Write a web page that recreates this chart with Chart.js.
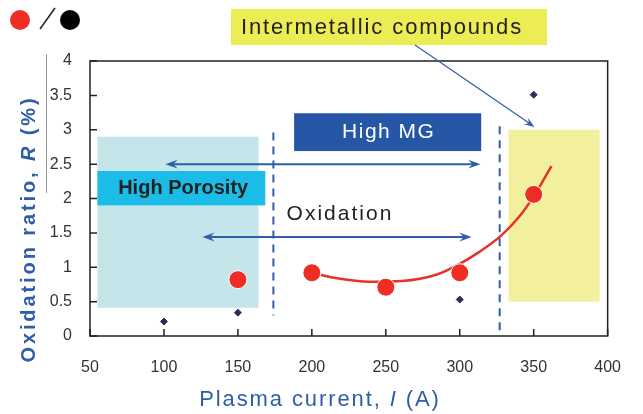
<!DOCTYPE html>
<html>
<head>
<meta charset="utf-8">
<script src="https://cdn.jsdelivr.net/npm/chart.js@4"></script>
<style>
  html, body { margin: 0; padding: 0; background: #fff; }
  #wrap { position: relative; width: 643px; height: 414px; }
</style>
</head>
<body>
<div id="wrap"><canvas id="oxChart" width="643" height="414"></canvas></div>
<script>
// Measured oxidation ratio (red dots)
const currentRed = [150, 200, 250, 300, 350];
const ratioRed = [0.82, 0.92, 0.71, 0.92, 2.06];

// Second series (small dark diamonds)
const currentDark = [100, 150, 300, 350];
const ratioDark = [0.21, 0.34, 0.53, 3.51];

// Trend curve
const curveX = [200, 217, 239, 261, 284, 300, 313, 328, 340, 350, 362];
const curveY = [0.92, 0.84, 0.79, 0.80, 0.89, 1.05, 1.22, 1.46, 1.73, 2.03, 2.47];

const xTicks = [50, 100, 150, 200, 250, 300, 350, 400];
const yTicks = [0, 0.5, 1, 1.5, 2, 2.5, 3, 3.5, 4];

const BLUE = '#2f5ea8';
const FAM = ' "Liberation Sans", Arial, sans-serif';

function pts(xs, ys) {
  return xs.map((x, i) => ({ x: x, y: ys[i] }));
}

function arrowHead(ctx, x1, y1, x2, y2, size) {
  const a = Math.atan2(y2 - y1, x2 - x1);
  ctx.beginPath();
  ctx.moveTo(x2, y2);
  ctx.lineTo(x2 - size * Math.cos(a - 0.35), y2 - size * Math.sin(a - 0.35));
  ctx.lineTo(x2 - size * 0.6 * Math.cos(a), y2 - size * 0.6 * Math.sin(a));
  ctx.lineTo(x2 - size * Math.cos(a + 0.35), y2 - size * Math.sin(a + 0.35));
  ctx.closePath();
  ctx.fill();
}

// draws text made of several font parts, centred on (cx, cy)
function mixedText(ctx, parts, cx, cy, spacing) {
  ctx.letterSpacing = spacing + 'px';
  ctx.textAlign = 'left';
  ctx.textBaseline = 'middle';
  let total = 0;
  parts.forEach(p => { ctx.font = p[1] + FAM; total += ctx.measureText(p[0]).width; });
  let px = cx - total / 2;
  parts.forEach(p => { ctx.font = p[1] + FAM; ctx.fillText(p[0], px, cy); px += ctx.measureText(p[0]).width; });
  ctx.letterSpacing = '0px';
}

// background shading, dashed limits, arrows and labels
const decorations = {
  id: 'decorations',
  beforeDatasetsDraw(chart) {
    const ctx = chart.ctx;
    const xs = chart.scales.x, ys = chart.scales.y;
    const X = v => xs.getPixelForValue(v);
    const Y = v => ys.getPixelForValue(v);
    const rect = (x0, x1, y0, y1, color) => {
      ctx.fillStyle = color;
      ctx.fillRect(X(x0), Y(y1), X(x1) - X(x0), Y(y0) - Y(y1));
    };
    ctx.save();
    rect(55, 164, 0.41, 2.9, '#c4e6ea');
    rect(333, 394.5, 0.5, 3.0, '#f2f09c');

    // dashed region limits
    ctx.strokeStyle = BLUE;
    ctx.lineWidth = 2;
    ctx.setLineDash([8, 6]);
    ctx.beginPath();
    ctx.moveTo(X(174), Y(2.96)); ctx.lineTo(X(174), Y(0.3));
    ctx.moveTo(X(327), Y(3.05)); ctx.lineTo(X(327), Y(0.02));
    ctx.stroke();
    ctx.setLineDash([]);

    // High Porosity label box
    rect(55, 168.5, 1.9, 2.4, '#1bbde8');
    ctx.fillStyle = '#222';
    mixedText(ctx, [['High Porosity', 'bold 20px']], X(113), Y(2.14), 0);

    // High MG label box
    rect(188, 314.5, 2.69, 3.24, '#2656a6');
    ctx.fillStyle = '#fff';
    mixedText(ctx, [['High MG', '21px']], X(252), Y(2.96), 1.5);

    // Oxidation text
    ctx.fillStyle = '#222';
    mixedText(ctx, [['Oxidation', '21px']], X(219), Y(1.77), 2);

    // double headed arrows
    ctx.strokeStyle = BLUE;
    ctx.fillStyle = BLUE;
    ctx.lineWidth = 2;
    [[101, 314, 2.5], [126, 308, 1.44]].forEach(a => {
      const xa = X(a[0]), xb = X(a[1]), y = Y(a[2]);
      ctx.beginPath();
      ctx.moveTo(xa + 6, y); ctx.lineTo(xb - 6, y);
      ctx.stroke();
      arrowHead(ctx, xb - 20, y, xb, y, 13);
      arrowHead(ctx, xa + 20, y, xa, y, 13);
    });
    ctx.restore();
  },
  afterDraw(chart) {
    const ctx = chart.ctx;
    const area = chart.chartArea;
    const xs = chart.scales.x, ys = chart.scales.y;
    const X = v => xs.getPixelForValue(v);
    const Y = v => ys.getPixelForValue(v);
    ctx.save();

    // frame and inner ticks
    ctx.strokeStyle = '#222';
    ctx.lineWidth = 1.5;
    ctx.strokeRect(area.left, area.top, area.right - area.left, area.bottom - area.top);
    ctx.beginPath();
    xTicks.forEach(v => { ctx.moveTo(X(v), area.bottom); ctx.lineTo(X(v), area.bottom - 7); });
    yTicks.forEach(v => { ctx.moveTo(area.left, Y(v)); ctx.lineTo(area.left + 7, Y(v)); });
    ctx.stroke();

    // Intermetallic callout
    ctx.fillStyle = '#ecec55';
    ctx.fillRect(231, 9, 316, 36);
    ctx.fillStyle = '#222';
    mixedText(ctx, [['Intermetallic compounds', '22px']], 382, 28, 1.9);
    ctx.strokeStyle = BLUE;
    ctx.fillStyle = BLUE;
    ctx.lineWidth = 1.2;
    const ex = X(350.5), ey = Y(3.04);
    ctx.beginPath();
    ctx.moveTo(415, 45); ctx.lineTo(ex - 4, ey - 3);
    ctx.stroke();
    arrowHead(ctx, 415, 45, ex, ey, 11);

    // legend symbols at top left
    ctx.fillStyle = '#ee2e24';
    ctx.beginPath(); ctx.arc(20, 20, 10, 0, Math.PI * 2); ctx.fill();
    ctx.fillStyle = '#000';
    ctx.beginPath(); ctx.arc(70, 20, 10, 0, Math.PI * 2); ctx.fill();
    ctx.strokeStyle = '#222';
    ctx.lineWidth = 1.5;
    ctx.beginPath(); ctx.moveTo(40, 29); ctx.lineTo(55, 8); ctx.stroke();

    // stray thin line left of the tick labels
    ctx.strokeStyle = '#999';
    ctx.lineWidth = 1;
    ctx.beginPath(); ctx.moveTo(46.5, 54); ctx.lineTo(46.5, 193); ctx.stroke();

    // axis titles
    ctx.fillStyle = BLUE;
    mixedText(ctx, [['Plasma current, ', '22px'], ['I', 'italic 22px'], [' (A)', '22px']], 320, 400, 1.9);

    ctx.translate(29, 229);
    ctx.rotate(-Math.PI / 2);
    mixedText(ctx, [['Oxidation ratio, ', 'bold 20px'], ['R', 'bold italic 20px'], [' (%)', 'bold 20px']], 0, 0, 2.9);
    ctx.restore();
  }
};

function initializeChart() {
  const ctx = document.getElementById('oxChart').getContext('2d');
  new Chart(ctx, {
    type: 'scatter',
    data: {
      datasets: [
        {
          label: 'Fit',
          type: 'line',
          data: pts(curveX, curveY),
          borderColor: '#e8312a',
          borderWidth: 2.5,
          pointRadius: 0,
          tension: 0.4,
          cubicInterpolationMode: 'monotone',
          fill: false,
          order: 2
        },
        {
          label: 'Oxidation ratio',
          data: pts(currentRed, ratioRed),
          pointRadius: 9,
          pointBackgroundColor: '#ee2e24',
          pointBorderColor: '#ffffff',
          pointBorderWidth: 1,
          order: 1
        },
        {
          label: 'Other',
          data: pts(currentDark, ratioDark),
          pointStyle: 'rectRot',
          pointRadius: 3.5,
          pointBackgroundColor: '#2b2d5e',
          pointBorderColor: '#2b2d5e',
          order: 1
        }
      ]
    },
    options: {
      responsive: false,
      animation: false,
      layout: { padding: { top: 61, right: 33, left: 0, bottom: 0 } },
      plugins: { legend: { display: false }, tooltip: { enabled: false } },
      scales: {
        x: {
          type: 'linear',
          min: 50, max: 400,
          afterFit: s => { s.height = 78; },
          grid: { display: false, drawTicks: false },
          border: { display: false },
          ticks: {
            stepSize: 50, padding: 22, color: '#333',
            font: { family: '"Liberation Sans", Arial, sans-serif', size: 16 }
          }
        },
        y: {
          min: 0, max: 4,
          afterFit: s => { s.width = 90; },
          grid: { display: false, drawTicks: false },
          border: { display: false },
          ticks: {
            stepSize: 0.5, padding: 18, color: '#333',
            font: { family: '"Liberation Sans", Arial, sans-serif', size: 16 },
            callback: v => String(v)
          }
        }
      }
    },
    plugins: [decorations]
  });
}

document.addEventListener('DOMContentLoaded', initializeChart);
</script>
</body>
</html>
